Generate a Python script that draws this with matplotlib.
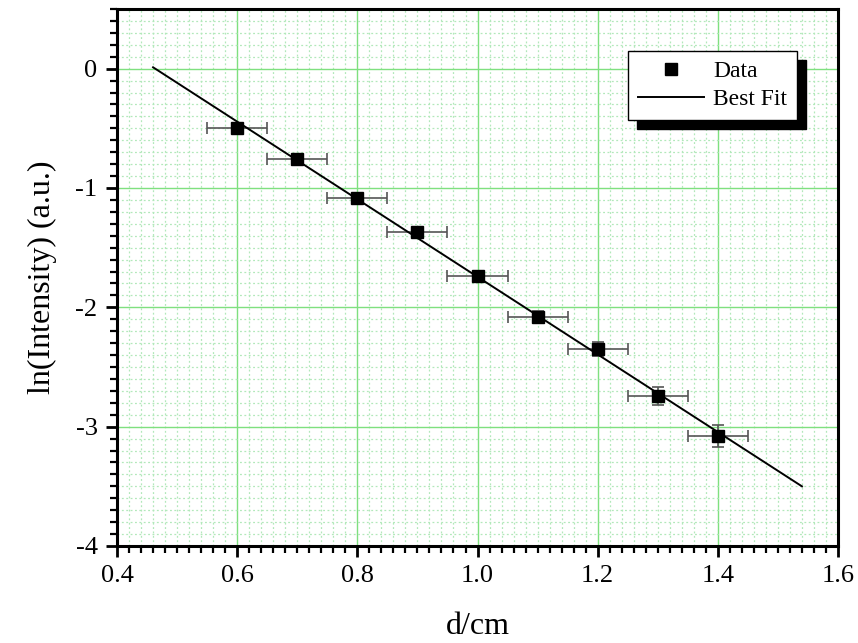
import matplotlib
matplotlib.use('Agg')
import matplotlib.pyplot as plt
import numpy as np

d_cm = [0.6, 0.7, 0.8, 0.9, 1.0, 1.1, 1.2, 1.3, 1.4]
ln_intensity = [-0.50, -0.76, -1.08, -1.37, -1.74, -2.08, -2.35, -2.74, -3.08]
d_err = [0.05, 0.05, 0.05, 0.05, 0.05, 0.05, 0.05, 0.05, 0.05]
ln_err = [0.02, 0.02, 0.025, 0.03, 0.035, 0.045, 0.06, 0.075, 0.09]
fit_range = [0.46, 1.54]

plt.rcParams['font.family'] = ['Liberation Serif', 'DejaVu Serif']

fig = plt.figure(figsize=(8.58, 6.43), dpi=100)
ax = fig.add_axes([0.1364, 0.1509, 0.8403, 0.8351])

ax.errorbar(d_cm, ln_intensity, xerr=d_err, yerr=ln_err, fmt='none',
            ecolor='#555555', elinewidth=1.2, capsize=4, capthick=1.2, zorder=3)
ax.plot(d_cm, ln_intensity, 's', color='black', markersize=9, label='Data', zorder=4)

slope, intercept = np.polyfit(d_cm, ln_intensity, 1)
xf = np.linspace(fit_range[0], fit_range[1], 50)
ax.plot(xf, slope * xf + intercept, color='black', linewidth=1.4, label='Best Fit', zorder=3)

ax.set_xlim(0.4, 1.6)
ax.set_ylim(-4, 0.5)
ax.set_xticks(np.arange(0.4, 1.61, 0.2))
ax.set_xticks(np.arange(0.4, 1.61, 0.02), minor=True)
ax.set_yticks([0, -1, -2, -3, -4])
ax.set_yticklabels(['0', '-1', '-2', '-3', '-4'])
ax.set_yticks(np.arange(-4, 0.51, 0.1), minor=True)
ax.xaxis.set_major_formatter(matplotlib.ticker.FormatStrFormatter('%.1f'))

ax.grid(True, which='major', color='#7fe07f', linewidth=1.0, linestyle='-', zorder=0)
ax.grid(True, which='minor', color='#b2e8ba', linewidth=0.9, linestyle=(0, (1.5, 2)), zorder=0)
ax.set_axisbelow(True)

for side in ['left', 'right', 'top', 'bottom']:
    ax.spines[side].set_linewidth(2.2)
ax.tick_params(which='major', direction='out', length=8, width=2, labelsize=19, pad=6)
ax.tick_params(which='minor', direction='out', length=5, width=1.6)
ax.tick_params(top=False, right=False, which='both')

ax.set_xlabel('d/cm', fontsize=23, labelpad=18)
ax.set_ylabel('ln(Intensity) (a.u.)', fontsize=23, labelpad=13)

leg = ax.legend(loc='upper right', bbox_to_anchor=(0.943, 0.922), borderaxespad=0,
                fontsize=17, fancybox=False, edgecolor='black', framealpha=1,
                shadow={'ox': 6.5, 'oy': -6.5, 'color': 'black', 'alpha': 1},
                handlelength=2.8, borderpad=0.4, labelspacing=0.3, handletextpad=0.4)
leg.get_frame().set_linewidth(1.0)

fig.savefig('out.png', dpi=100)
